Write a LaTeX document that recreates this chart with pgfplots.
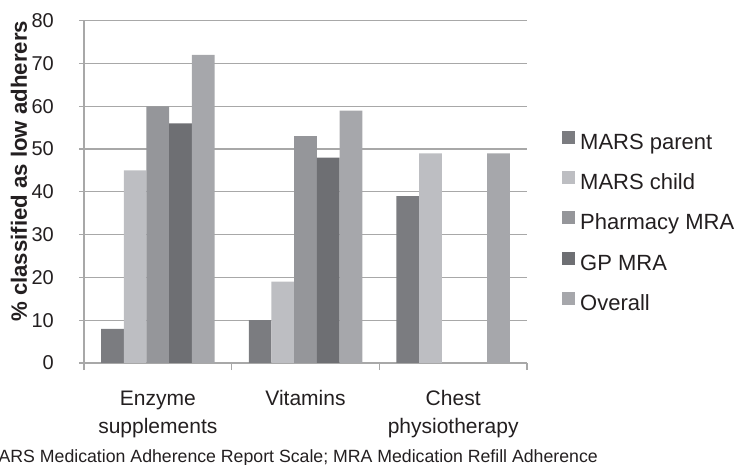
\documentclass[border=0pt]{standalone}
\usepackage{fontspec}
\setmainfont{Liberation Sans}
\usepackage{pgfplots}
\pgfplotsset{compat=1.18}
\definecolor{cParent}{HTML}{7B7C80}
\definecolor{cChild}{HTML}{BDBEC2}
\definecolor{cPharm}{HTML}{95969A}
\definecolor{cGP}{HTML}{6E6F73}
\definecolor{cOverall}{HTML}{A6A7AB}
\definecolor{gridc}{HTML}{A8A8A8}
\definecolor{txt}{HTML}{231F20}
\begin{document}
\begin{tikzpicture}
\useasboundingbox (0,0) rectangle (737bp,465bp);
\clip (0,0) rectangle (737bp,465bp);
\begin{axis}[
  at={(84bp,102bp)}, anchor=south west,
  scale only axis, width=443bp, height=342.3bp,
  xmin=-0.5, xmax=2.5, ymin=0, ymax=80,
  ybar=0pt, bar width=22.7bp,
  axis x line*=bottom, axis y line*=left,
  axis line style={gridc, line width=1.2bp, -},
  tick align=outside,
  tick style={gridc, line width=1.2bp},
  major tick length=5bp, minor tick length=7bp,
  xtick={0,1,2},
  xticklabels={{Enzyme\\supplements},{Vitamins},{Chest\\physiotherapy}},
  major x tick style={draw=none},
  minor xtick={-0.5,0.5,1.5,2.5},
  ytick={0,10,...,80},
  ymajorgrids=true,
  grid style={gridc, line width=1.2bp},
  /pgf/number format/assume math mode=true,
  xticklabel style={anchor=north, inner sep=0pt, align=center, text=txt,
    font=\fontsize{21bp}{28bp}\selectfont, yshift=-22.5bp},
  yticklabel style={anchor=east, inner sep=0pt, text=txt,
    font=\fontsize{20bp}{24bp}\selectfont, xshift=-25bp},
  ylabel={\% classified as low adherers},
  every axis y label/.style={at={(axis description cs:-0.1287,0.560)}, rotate=90, anchor=base,
    text=txt, font=\bfseries\fontsize{22.2bp}{26bp}\selectfont},
  legend style={at={(1.079,0.409)}, anchor=west, draw=none, fill=none,
    font=\fontsize{22bp}{26bp}\selectfont, text=txt, inner sep=0pt,
    row sep=17bp, column sep=5bp,
    nodes={inner sep=0pt, text height=16bp, text depth=4.7bp}},
  legend cell align=left,
  legend image code/.code={\path[#1, draw=none] (0bp,0bp) rectangle (13bp,13bp);},
]
\addplot[fill=cParent, draw=none] coordinates {(0,8) (1,10) (2,39)};
\addplot[fill=cChild, draw=none] coordinates {(0,45) (1,19) (2,49)};
\addplot[fill=cPharm, draw=none] coordinates {(0,60) (1,53)};
\addplot[fill=cGP, draw=none] coordinates {(0,56) (1,48)};
\addplot[fill=cOverall, draw=none] coordinates {(0,72) (1,59) (2,49)};
\legend{MARS parent, MARS child, Pharmacy MRA, GP MRA, Overall}
\end{axis}
\node[anchor=base east, font=\fontsize{17.7bp}{20bp}\selectfont, text=txt, inner sep=0pt]
  at (598bp,2.5bp) {MARS Medication Adherence Report Scale; MRA Medication Refill Adherence};
\end{tikzpicture}
\end{document}
